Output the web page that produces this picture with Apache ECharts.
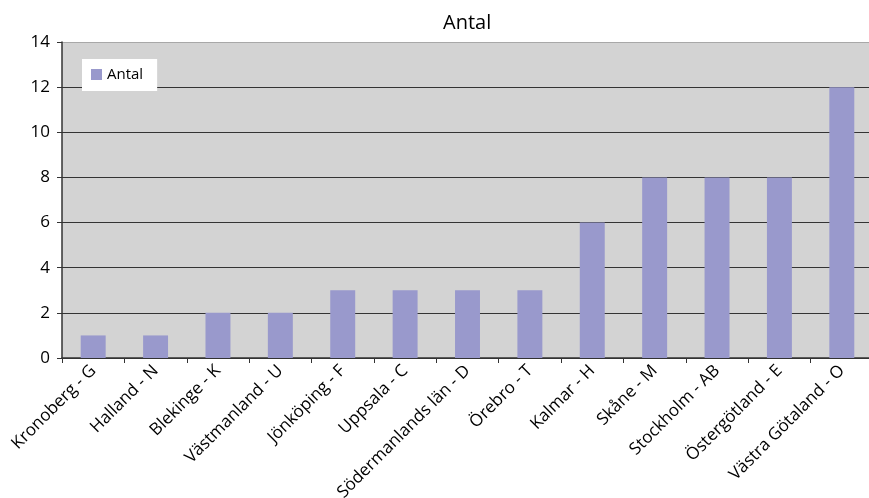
<!DOCTYPE html>
<html><head><meta charset="utf-8">
<script src="https://cdn.jsdelivr.net/npm/echarts@6/dist/echarts.min.js"></script>
<style>html,body{margin:0;padding:0;background:#fff}#c{width:869px;height:498px}</style>
</head><body><div id="c"></div>
<script>
const categories = ["Kronoberg - G","Halland - N","Blekinge - K","Västmanland - U","Jönköping - F","Uppsala - C","Södermanlands län - D","Örebro - T","Kalmar - H","Skåne - M","Stockholm - AB","Östergötland - E","Västra Götaland - O"];
const antal = [1,1,2,2,3,3,3,3,6,8,8,8,12];
const chart = echarts.init(document.getElementById('c'), null, {renderer:'canvas'});
const font = "'Open Sans', sans-serif";
chart.setOption({
  animation:false,
  title:{text:'Antal', left:443, top:13, textStyle:{fontFamily:font, fontSize:20, fontWeight:'normal', color:'#000'}, padding:0},
  legend:{left:82, top:59, padding:[8,14,9,9], backgroundColor:'#fff', itemWidth:11, itemHeight:11, itemGap:8,
    textStyle:{fontFamily:font, fontSize:15, color:'#000'}, data:[{name:'Antal', icon:'rect'}]},
  grid:{left:62, right:-4, top:42, bottom:140, containLabel:false, outerBoundsMode:'none', show:true, backgroundColor:'#d3d3d3', borderWidth:0},
  xAxis:{type:'category', data:categories,
    axisLine:{lineStyle:{color:'#333', width:1.5}},
    axisTick:{show:true, length:5, lineStyle:{color:'#333'}},
    axisLabel:{rotate:45, interval:0, fontFamily:font, fontSize:17, color:'#000', margin:10}},
  yAxis:{type:'value', min:0, max:14, interval:2,
    axisLine:{show:true, lineStyle:{color:'#333', width:1.5}},
    axisTick:{show:true, length:5, lineStyle:{color:'#333'}},
    splitLine:{lineStyle:{color:['#333','#333','#333','#333','#333','#333','#333','#a8a8a8'], width:1}},
    axisLabel:{fontFamily:font, fontSize:17, color:'#000', margin:12}},
  series:[{name:'Antal', type:'bar', data:antal, barCategoryGap:'60%', itemStyle:{color:'#9999cc'}}]
});
</script></body></html>
